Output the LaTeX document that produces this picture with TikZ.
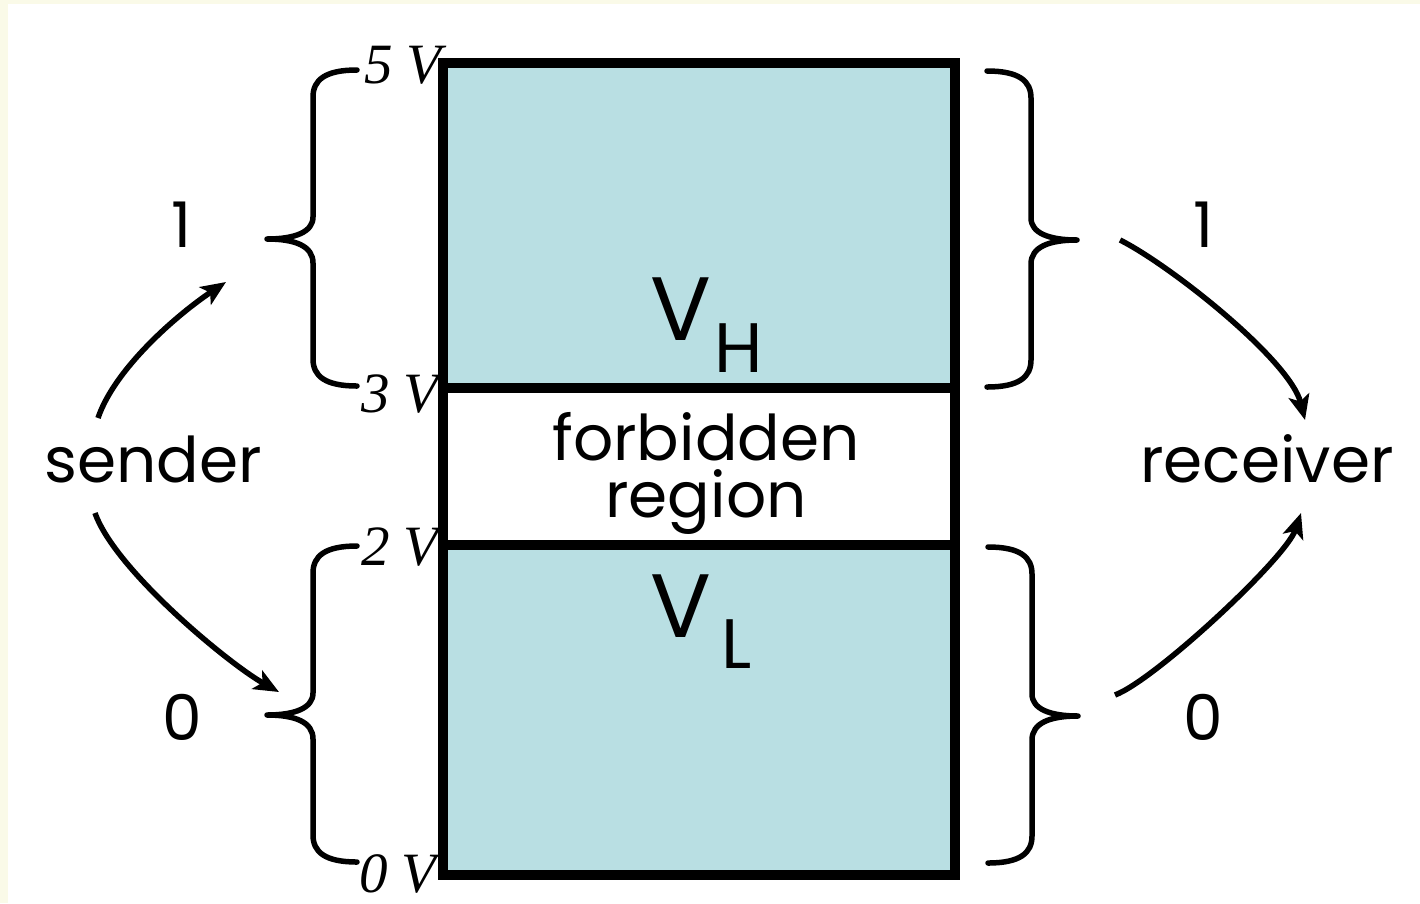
\documentclass[tikz,border=0pt]{standalone}
\usepackage{fontspec}
\setmainfont{Poppins}
\newfontfamily\voltfont{Liberation Serif}
\usetikzlibrary{arrows.meta}

\definecolor{bandblue}{RGB}{185,223,227}
\definecolor{paper}{RGB}{250,250,232}

\tikzset{
  curly/.pic={
    \draw[brace] (44,0) .. controls (12,0) and (0,10) .. (0,27) -- (0,147)
      .. controls (0,162) and (-18,169) .. (-46,169)
      .. controls (-18,169) and (0,176) .. (0,193) -- (0,289)
      .. controls (0,306) and (12,316) .. (44,316);
  }
}

\begin{document}
\begin{tikzpicture}[x=1pt,y=-1pt,
  lbl/.style={anchor=base, inner sep=0pt, font=\fontsize{63}{57}\selectfont},
  volt/.style={anchor=base east, inner sep=0pt, font=\voltfont\itshape\fontsize{57}{60}\selectfont},
  brace/.style={line width=5.5pt, line cap=round, line join=round},
  flow/.style={line width=5.5pt, -{Stealth[length=25pt,width=21pt,inset=6pt]}},
  outline/.style={line width=10pt}
]
\useasboundingbox (0,0) rectangle (1420,903);
% page background with a thin cream edge
\fill[paper] (0,0) rectangle (1420,903);
\fill[white] (8,4) rectangle (1420,903);

% voltage column: high band, forbidden gap, low band
\fill[bandblue] (443,63) rectangle (955,875);
\fill[white] (443,388) rectangle (955,545);
\draw[outline] (443,63) rectangle (955,875);
\draw[outline] (443,388) -- (955,388);
\draw[outline] (443,545) -- (955,545);

% level labels
\node[volt] (v5) at (442,83) {5 V};
\node[volt] (v3) at (439,412) {3 V};
\node[volt] (v2) at (439,565) {2 V};
\node[volt] (v0) at (437,892) {0 V};

% band names
\node[anchor=base west, inner sep=0pt] (vh) at (650,340)
  {\fontsize{90}{100}\selectfont V\hspace{3pt}\raisebox{-32pt}{\fontsize{70}{80}\selectfont H}};
\node[anchor=base west, inner sep=0pt] (vl) at (650,637)
  {\fontsize{90}{100}\selectfont V\hspace{10pt}\raisebox{-31pt}{\fontsize{70}{80}\selectfont L}};
\node[lbl, anchor=center, align=center] (forb) at (706,473) {forbidden\\region};

% braces grouping each band
\pic at (313,70) {curly};
\pic at (313,546) {curly};
\pic[xscale=-1] at (1031,71) {curly};
\pic[xscale=-1] at (1032,547) {curly};

% logic values and endpoints
\node[lbl] (one-l) at (182,247) {1};
\node[lbl] (zero-l) at (182,740) {0};
\node[lbl] (one-r) at (1204,247) {1};
\node[lbl] (zero-r) at (1203,740) {0};
\node[lbl] (sender) at (153,482) {sender};
\node[lbl] (receiver) at (1267,482) {receiver};

% arrow end points
\coordinate (s-up) at (98,418);
\coordinate (s-dn) at (95,513);
\coordinate (to-one) at (226,282);
\coordinate (to-zero) at (279,692);
\coordinate (from-one) at (1120,240);
\coordinate (from-zero) at (1115,695);
\coordinate (r-up) at (1305,420);
\coordinate (r-dn) at (1301,513);

\draw[flow] (s-up) .. controls +(17,-50) and +(-48,32) .. (to-one);
\draw[flow] (s-dn) .. controls +(20,57) and +(-50,-28) .. (to-zero);
\draw[flow] (from-one) .. controls +(50,25) and +(-15,-60) .. (r-up);
\draw[flow] (from-zero) .. controls +(40,-15) and +(-15,45) .. (r-dn);
\end{tikzpicture}
\end{document}
